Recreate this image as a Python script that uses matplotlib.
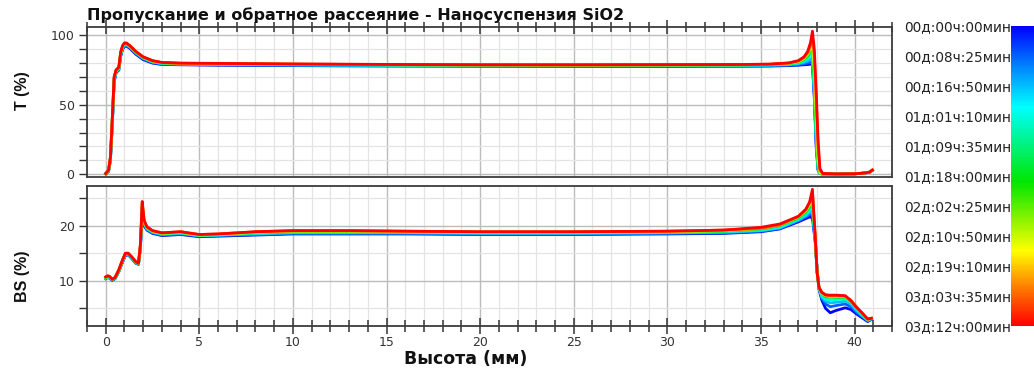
import numpy as np
import matplotlib
matplotlib.use("Agg")
import matplotlib.pyplot as plt
from matplotlib.colors import LinearSegmentedColormap, Normalize
from matplotlib.ticker import MultipleLocator
import matplotlib.colorbar as mcolorbar

# ---------------- data ----------------
title = "Пропускание и обратное рассеяние - Наносуспензия SiO2"
xlabel = "Высота (мм)"
ylabel_T = "T (%)"
ylabel_BS = "BS (%)"

cbar_labels = ["00д:00ч:00мин", "00д:08ч:25мин", "00д:16ч:50мин", "01д:01ч:10мин",
               "01д:09ч:35мин", "01д:18ч:00мин", "02д:02ч:25мин", "02д:10ч:50мин",
               "02д:19ч:10мин", "03д:03ч:35мин", "03д:12ч:00мин"]
total_hours = 84.0

curve_hours = [0.0, 8.4, 16.8, 25.2, 42.0, 58.8, 75.6, 84.0]

# heights (mm) for transmission
x_T = [0.0, 0.15, 0.25, 0.35, 0.45, 0.55, 0.7, 0.8, 0.9, 1.0,
       1.1, 1.3, 1.6, 2.0, 2.5, 3.0, 4.0, 6.0, 8.0, 10.0,
       13.0, 16.0, 20.0, 25.0, 30.0, 34.0, 35.5, 36.5, 37.0, 37.3,
       37.5, 37.65, 37.75, 37.85, 37.95, 38.05, 38.15, 38.3, 39.0, 40.0,
       40.5, 40.8, 40.95]

T_00 = [0.3, 2, 10, 35, 66, 73, 75, 85, 90, 92.0,
        92.3, 90.5, 86.5, 82.5, 80.0, 79.0, 78.8, 78.5, 78.3, 78.2,
        78.0, 77.9, 77.8, 77.7, 77.7, 77.8, 77.9, 78.2, 78.5, 78.8,
        79.0, 79.2, 79.0, 55, 20, 3, 0.5, 0.2, 0.2, 0.3,
        0.8, 1.4, 2.8]
T_08 = [0.3, 2, 10, 36, 67, 73.5, 75.5, 85.5, 90.5, 92.5,
        92.8, 91.0, 87.0, 83.0, 80.4, 79.3, 79.0, 78.7, 78.5, 78.4,
        78.2, 78.1, 78.0, 77.9, 77.9, 78.0, 78.1, 78.5, 79.0, 79.5,
        80.0, 80.5, 80.0, 57.0, 22.0, 3.5, 0.5, 0.2, 0.2, 0.3,
        0.8, 1.4, 2.8]
T_17 = [0.4, 2.5, 11, 37, 68, 74, 76, 86, 91, 93.0,
        93.3, 91.5, 87.5, 83.5, 80.8, 79.6, 79.3, 79.0, 78.8, 78.7,
        78.5, 78.3, 78.2, 78.1, 78.2, 78.3, 78.5, 78.9, 79.6, 80.5,
        81.5, 83.0, 82.0, 60.0, 25.0, 4.0, 0.5, 0.2, 0.2, 0.3,
        0.8, 1.5, 2.9]
T_25 = [0.4, 2.5, 11, 38, 68, 74, 76, 86.5, 91.5, 93.5,
        93.7, 91.8, 87.8, 83.8, 81.0, 79.9, 79.5, 79.2, 79.0, 78.9,
        78.7, 78.5, 78.4, 78.3, 78.4, 78.5, 78.7, 79.2, 80.0, 81.5,
        83.0, 85.5, 85.0, 62.0, 27.0, 4.5, 0.5, 0.2, 0.2, 0.3,
        0.8, 1.5, 2.9]
T_42 = [0.4, 3, 12, 39, 69, 74.5, 76.5, 87, 92, 94.0,
        94.0, 92.0, 88.0, 84.0, 81.3, 80.1, 79.7, 79.5, 79.3, 79.1,
        78.9, 78.7, 78.6, 78.5, 78.6, 78.7, 79.0, 79.6, 80.6, 82.5,
        85.0, 88.5, 89.0, 65.0, 30.0, 5.0, 0.6, 0.2, 0.2, 0.3,
        0.8, 1.5, 3.0]
T_59 = [0.5, 3, 12, 39, 69, 74.5, 76.5, 87.5, 92, 94.2,
        94.2, 92.2, 88.2, 84.2, 81.5, 80.3, 79.8, 79.6, 79.4, 79.2,
        79.0, 78.8, 78.7, 78.6, 78.7, 78.8, 79.1, 79.9, 81.0, 83.3,
        86.5, 91.0, 93.0, 75.0, 40.0, 10.0, 1.0, 0.3, 0.2, 0.3,
        0.8, 1.5, 3.0]
T_76 = [0.5, 3, 12, 40, 70, 75, 77, 88, 92.5, 94.4,
        94.4, 92.4, 88.4, 84.4, 81.7, 80.4, 79.9, 79.7, 79.5, 79.3,
        79.1, 78.9, 78.8, 78.7, 78.8, 78.9, 79.2, 80.0, 81.5, 84.0,
        87.5, 93.0, 98.0, 85.0, 55.0, 20.0, 3.0, 0.5, 0.2, 0.3,
        0.8, 1.5, 3.0]
T_84 = [0.5, 3, 12, 40, 70, 75, 77, 88, 92.5, 94.5,
        94.5, 92.5, 88.5, 84.5, 81.8, 80.5, 80.0, 79.8, 79.6, 79.4,
        79.2, 79.0, 78.8, 78.8, 78.9, 79.0, 79.3, 80.2, 81.8, 84.5,
        88.5, 95.0, 103.0, 90.0, 60.0, 25.0, 4.0, 0.5, 0.2, 0.3,
        0.8, 1.5, 3.0]

# heights (mm) for backscattering
x_BS = [0.0, 0.1, 0.2, 0.35, 0.5, 0.7, 0.9, 1.05, 1.2, 1.4,
        1.6, 1.75, 1.85, 1.95, 2.05, 2.2, 2.5, 3.0, 3.5, 4.0,
        5.0, 6.0, 7.0, 8.0, 10.0, 13.0, 16.0, 20.0, 25.0, 30.0,
        33.0, 35.0, 36.0, 37.0, 37.4, 37.6, 37.75, 37.9, 38.0, 38.1,
        38.25, 38.45, 38.7, 39.0, 39.5, 39.8, 40.1, 40.4, 40.7, 40.9]

BS_00 = [10.4, 10.6, 10.5, 10.1, 10.4, 11.7, 13.4, 14.6, 14.7, 14.0,
         13.2, 13.0, 15.8, 22.0, 20.0, 19.2, 18.6, 18.2, 18.3, 18.4,
         18.0, 18.1, 18.2, 18.3, 18.5, 18.5, 18.5, 18.4, 18.4, 18.5,
         18.6, 18.9, 19.4, 20.7, 21.3, 21.6, 21.4, 17.0, 12.0, 8.5,
         6.5, 5.0, 4.2, 4.6, 5.1, 4.8, 4.0, 3.3, 2.6, 3.0]
BS_08 = [10.4, 10.6, 10.5, 10.1, 10.4, 11.7, 13.5, 14.7, 14.8, 14.1,
         13.3, 13.0, 16.0, 22.5, 20.2, 19.3, 18.7, 18.3, 18.4, 18.5,
         18.1, 18.2, 18.3, 18.4, 18.6, 18.6, 18.6, 18.5, 18.5, 18.6,
         18.7, 19.0, 19.5, 20.9, 21.6, 22.0, 22.0, 17.3, 11.8, 8.6,
         6.8, 5.8, 5.3, 5.5, 5.8, 5.3, 4.3, 3.5, 2.7, 3.0]
BS_17 = [10.5, 10.7, 10.6, 10.2, 10.5, 11.8, 13.6, 14.8, 14.8, 14.1,
         13.3, 13.1, 16.1, 23.0, 20.4, 19.4, 18.8, 18.4, 18.5, 18.6,
         18.2, 18.3, 18.4, 18.5, 18.7, 18.7, 18.7, 18.6, 18.6, 18.7,
         18.8, 19.1, 19.6, 21.0, 21.8, 22.4, 22.6, 17.5, 11.6, 8.7,
         7.0, 6.3, 6.0, 6.1, 6.3, 5.8, 4.6, 3.7, 2.8, 3.1]
BS_25 = [10.5, 10.7, 10.6, 10.2, 10.5, 11.8, 13.6, 14.8, 14.9, 14.2,
         13.4, 13.1, 16.2, 23.3, 20.5, 19.5, 18.9, 18.5, 18.6, 18.7,
         18.2, 18.3, 18.5, 18.6, 18.8, 18.8, 18.8, 18.7, 18.7, 18.8,
         18.9, 19.2, 19.7, 21.2, 22.1, 22.8, 23.3, 17.7, 11.5, 8.7,
         7.3, 6.7, 6.5, 6.6, 6.7, 6.1, 4.9, 3.8, 2.9, 3.1]
BS_42 = [10.6, 10.8, 10.7, 10.2, 10.5, 11.9, 13.7, 14.9, 14.9, 14.2,
         13.4, 13.1, 16.3, 23.7, 20.7, 19.6, 19.0, 18.6, 18.7, 18.8,
         18.3, 18.4, 18.6, 18.7, 18.9, 18.9, 18.9, 18.8, 18.8, 18.9,
         19.0, 19.4, 20.0, 21.4, 22.4, 23.4, 24.2, 17.8, 11.5, 8.7,
         7.6, 7.1, 7.0, 7.0, 7.0, 6.3, 5.1, 4.0, 3.0, 3.2]
BS_59 = [10.6, 10.8, 10.7, 10.3, 10.6, 11.9, 13.7, 14.9, 15.0, 14.3,
         13.5, 13.2, 16.4, 24.0, 20.8, 19.7, 19.0, 18.6, 18.7, 18.8,
         18.3, 18.4, 18.6, 18.8, 19.0, 19.0, 18.9, 18.8, 18.8, 18.9,
         19.1, 19.5, 20.1, 21.6, 22.7, 23.8, 25.0, 17.9, 11.5, 8.7,
         7.7, 7.3, 7.2, 7.2, 7.1, 6.4, 5.2, 4.1, 3.0, 3.2]
BS_76 = [10.7, 10.9, 10.8, 10.3, 10.6, 12.0, 13.8, 15.0, 15.0, 14.3,
         13.5, 13.2, 16.5, 24.2, 20.9, 19.8, 19.1, 18.7, 18.8, 18.9,
         18.4, 18.5, 18.7, 18.9, 19.1, 19.1, 19.0, 18.9, 18.9, 19.0,
         19.2, 19.5, 20.1, 21.7, 22.9, 24.2, 25.8, 18.0, 11.5, 8.8,
         7.9, 7.5, 7.3, 7.3, 7.2, 6.5, 5.3, 4.1, 3.0, 3.2]
BS_84 = [10.7, 10.9, 10.8, 10.3, 10.6, 12.0, 13.8, 15.0, 15.0, 14.3,
         13.5, 13.2, 16.5, 24.4, 21.0, 19.8, 19.1, 18.7, 18.8, 18.9,
         18.4, 18.5, 18.7, 18.9, 19.1, 19.1, 19.0, 18.9, 18.9, 19.0,
         19.2, 19.7, 20.3, 21.7, 23.0, 24.3, 26.6, 18.0, 11.5, 8.8,
         7.9, 7.4, 7.4, 7.4, 7.3, 6.4, 5.2, 4.2, 3.1, 3.2]

T_curves = [T_00, T_08, T_17, T_25, T_42, T_59, T_76, T_84]
BS_curves = [BS_00, BS_08, BS_17, BS_25, BS_42, BS_59, BS_76, BS_84]

# ---------------- style ----------------
W, H = 1034, 369
cmap = LinearSegmentedColormap.from_list(
    "turbiscan",
    [(0.0, (0.0, 0.0, 1.0)), (0.13, (0.0, 0.5, 1.0)), (0.27, (0.0, 1.0, 1.0)),
     (0.52, (0.0, 0.9, 0.0)), (0.75, (1.0, 1.0, 0.0)), (0.87, (1.0, 0.5, 0.0)),
     (1.0, (1.0, 0.0, 0.0))])
norm = Normalize(0, total_hours)

tick_color = "#333333"
spine_color = "#3c3c3c"

fig = plt.figure(figsize=(W / 100, H / 100), dpi=100)
ax1 = fig.add_axes([87 / W, 1 - 177 / H, (892 - 87) / W, (177 - 27) / H])
ax2 = fig.add_axes([87 / W, 1 - 326 / H, (892 - 87) / W, (326 - 186) / H])
cax = fig.add_axes([1011 / W, 1 - 326 / H, 30 / W, (326 - 26) / H])

for hrs, yv in zip(curve_hours, T_curves):
    ax1.plot(x_T, yv, color=cmap(norm(hrs)), lw=2.0, solid_joinstyle="round")
for hrs, yv in zip(curve_hours, BS_curves):
    ax2.plot(x_BS, yv, color=cmap(norm(hrs)), lw=2.0, solid_joinstyle="round")

for ax in (ax1, ax2):
    ax.set_xlim(-1.0, 42.0)
    ax.xaxis.set_major_locator(MultipleLocator(5))
    ax.xaxis.set_minor_locator(MultipleLocator(1))
    ax.set_axisbelow(True)
    ax.grid(which="minor", color="#e4e4e4", lw=0.9)
    ax.grid(which="major", color="#bcbcbc", lw=1.0)
    for s in ax.spines.values():
        s.set_color(spine_color)
        s.set_linewidth(1.3)
    ax.tick_params(axis="y", which="both", direction="out", length=6, width=1.0,
                   color=tick_color, labelcolor=tick_color, labelsize=9, pad=3)

ax1.set_ylim(-2, 106)
ax1.yaxis.set_major_locator(MultipleLocator(50))
ax1.yaxis.set_minor_locator(MultipleLocator(10))
ax1.tick_params(axis="x", which="both", top=True, bottom=False, labeltop=False,
                labelbottom=False, direction="inout", color=tick_color, width=1.1)
ax1.tick_params(axis="x", which="major", length=10)
ax1.tick_params(axis="x", which="minor", length=7)

ax2.set_ylim(1.8, 27.2)
ax2.yaxis.set_major_locator(MultipleLocator(10))
ax2.yaxis.set_minor_locator(MultipleLocator(5))
ax2.tick_params(axis="x", which="both", top=False, bottom=True, direction="inout",
                color=tick_color, width=1.1, labelcolor=tick_color, labelsize=9)
ax2.tick_params(axis="x", which="major", length=12, pad=1)
ax2.tick_params(axis="x", which="minor", length=9)

# colorbar
cb = mcolorbar.ColorbarBase(cax, cmap=cmap, norm=norm, orientation="vertical")
cb.outline.set_visible(False)
cax.invert_yaxis()
cax.yaxis.set_ticks_position("left")
cb.set_ticks(np.linspace(0, total_hours, len(cbar_labels)))
cb.set_ticklabels(cbar_labels)
cax.tick_params(axis="y", length=0, pad=0, labelsize=9.8, labelcolor="#222222")
cax.minorticks_off()

# texts
fig.text(87 / W, 1 - 20 / H, title, fontsize=11.5, fontweight="bold",
         family="DejaVu Sans", va="baseline", ha="left", color="#111111")
fig.text(23 / W, 1 - 91 / H, ylabel_T, rotation=90, ha="center", va="center",
         fontsize=11.5, fontweight="bold", family="Liberation Sans", color="#111111")
fig.text(23 / W, 1 - 276 / H, ylabel_BS, rotation=90, ha="center", va="center",
         fontsize=11.5, fontweight="bold", family="Liberation Sans", color="#111111")
fig.text(466 / W, 1 - 359 / H, xlabel, ha="center", va="center",
         fontsize=12.5, fontweight="bold", family="DejaVu Sans", color="#111111")

fig.savefig("out.png", dpi=100)
